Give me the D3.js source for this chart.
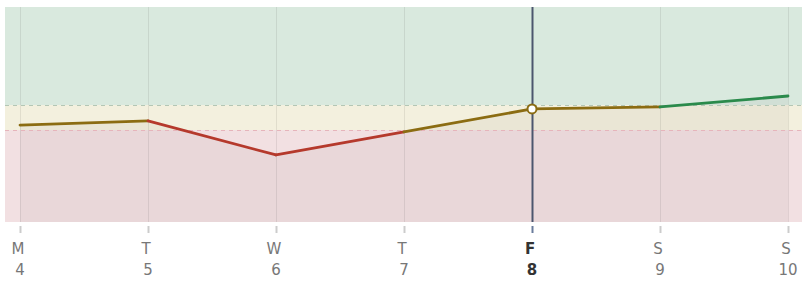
<!DOCTYPE html>
<html lang="en">
    <head>
        <meta charset="utf-8" />
        <script src="https://d3js.org/d3.v7.min.js"></script>
        <title>Weekly chart</title>
        <style>
            body { margin: 0; background: #fff; }
            svg { display: block; font-family: "DejaVu Sans", sans-serif; }
        </style>
    </head>
    <body>
        <div id="container"></div>
        <script>
            const days = ['M', 'T', 'W', 'T', 'F', 'S', 'S'];
            const dates = ['4', '5', '6', '7', '8', '9', '10'];
            const values = [45.1, 47.0, 31.2, 41.9, 52.6, 53.5, 58.6];
            const lowLimit = 42.8;
            const highLimit = 54.4;
            const selected = 4;

            const width = 802;
            const height = 284;
            const plotLeft = 5, plotRight = 802, plotTop = 7, plotBottom = 222;

            const zoneOf = v => v >= highLimit ? 'good' : v >= lowLimit ? 'ok' : 'bad';
            const lineColor = { good: '#2a8a4b', ok: '#8b6c12', bad: '#b5392c' };

            const idx = d3.range(days.length);

            const x = d3.scalePoint()
                        .domain(idx)
                        .range([20, 788]);

            const y = d3.scaleLinear()
                        .domain([0, 100])
                        .range([plotBottom, plotTop]);

            const svg = d3.select('#container')
                          .append('svg')
                          .attr('width', width)
                          .attr('height', height);

            // zone bands
            const bands = [
                { from: highLimit, to: 100, fill: '#d9e9de' },
                { from: lowLimit, to: highLimit, fill: '#f3f0de' },
                { from: 0, to: lowLimit, fill: '#f2e0e2' }
            ];
            svg.selectAll('rect.band')
               .data(bands)
               .enter()
               .append('rect')
               .attr('class', 'band')
               .attr('x', plotLeft)
               .attr('width', plotRight - plotLeft)
               .attr('y', d => y(d.to))
               .attr('height', d => y(d.from) - y(d.to))
               .attr('fill', d => d.fill);

            // shade under the line
            const area = d3.area()
                           .x((d, i) => x(i))
                           .y0(y(0))
                           .y1(d => y(d));
            svg.append('path')
               .datum(values)
               .attr('d', area)
               .attr('fill', '#2b1a1a')
               .attr('fill-opacity', 0.045);

            // threshold dashes
            svg.selectAll('line.limit')
               .data([{ v: highLimit, c: '#b4c6b4' }, { v: lowLimit, c: '#e6b4bb' }])
               .enter()
               .append('line')
               .attr('class', 'limit')
               .attr('x1', plotLeft)
               .attr('x2', plotRight)
               .attr('y1', d => Math.round(y(d.v)) + 0.5)
               .attr('y2', d => Math.round(y(d.v)) + 0.5)
               .attr('stroke', d => d.c)
               .attr('stroke-dasharray', '4,4');

            // vertical grid
            svg.selectAll('line.grid')
               .data(idx.filter(i => i !== selected))
               .enter()
               .append('line')
               .attr('class', 'grid')
               .attr('x1', d => x(d) + 0.5)
               .attr('x2', d => x(d) + 0.5)
               .attr('y1', plotTop)
               .attr('y2', plotBottom)
               .attr('stroke', '#000')
               .attr('stroke-opacity', 0.08);

            // highlighted day
            svg.append('line')
               .attr('x1', x(selected) + 0.5)
               .attr('x2', x(selected) + 0.5)
               .attr('y1', plotTop)
               .attr('y2', plotBottom)
               .attr('stroke', '#4c566e')
               .attr('stroke-width', 2);

            // line segments, colored by zone of their end point
            const segs = idx.slice(1).map(i => ({ a: i - 1, b: i }));
            svg.selectAll('line.seg')
               .data(segs)
               .enter()
               .append('line')
               .attr('class', 'seg')
               .attr('x1', d => x(d.a))
               .attr('y1', d => y(values[d.a]))
               .attr('x2', d => x(d.b))
               .attr('y2', d => y(values[d.b]))
               .attr('stroke', d => lineColor[zoneOf(values[d.b])])
               .attr('stroke-width', 2.8)
               .attr('stroke-linecap', 'round');

            svg.append('circle')
               .attr('cx', x(selected))
               .attr('cy', y(values[selected]))
               .attr('r', 4.5)
               .attr('fill', '#fff')
               .attr('stroke', lineColor[zoneOf(values[selected])])
               .attr('stroke-width', 2);

            // x axis
            const xAxis = svg.append('g').attr('id', 'x-axis');
            const ticks = xAxis.selectAll('g')
                               .data(idx)
                               .enter()
                               .append('g')
                               .attr('transform', d => `translate(${x(d)}, 0)`);

            ticks.append('line')
                 .attr('x1', 0.5).attr('x2', 0.5)
                 .attr('y1', 226).attr('y2', 233)
                 .attr('stroke', d => d === selected ? '#6a7c9c' : '#cccccc')
                 .attr('stroke-width', 2);

            ticks.append('text')
                 .attr('y', 254)
                 .attr('dx', -2)
                 .attr('text-anchor', 'middle')
                 .style('font-size', '15px')
                 .style('font-weight', d => d === selected ? 'bold' : 'normal')
                 .attr('fill', d => d === selected ? '#333' : '#777')
                 .text(d => days[d]);

            ticks.append('text')
                 .attr('y', 275)
                 .attr('text-anchor', 'middle')
                 .style('font-size', '15px')
                 .style('font-weight', d => d === selected ? 'bold' : 'normal')
                 .attr('fill', d => d === selected ? '#333' : '#777')
                 .text(d => dates[d]);
        </script>
    </body>
</html>
